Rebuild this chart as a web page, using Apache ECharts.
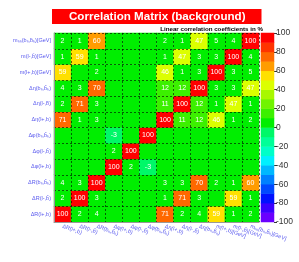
<!DOCTYPE html>
<html>
<head>
<meta charset="utf-8">
<script src="https://cdn.jsdelivr.net/npm/echarts@6/dist/echarts.min.js"></script>
<style>html,body{margin:0;padding:0;background:#fff}#c{width:299px;height:262px}</style>
</head>
<body>
<div id="c"></div>
<script>
// variables: same order for columns (left→right) and rows (bottom→top)
var variables = [
  'ΔR(l+,b)', 'ΔR(l-,b̄)', 'ΔR(bₕ,b̄ₕ)',
  'Δφ(l+,b)', 'Δφ(l-,b̄)', 'Δφ(bₕ,b̄ₕ)',
  'Δη(l+,b)', 'Δη(l-,b̄)', 'Δη(bₕ,b̄ₕ)',
  'm(l+,b)[GeV]', 'm(l-,b̄)[GeV]', 'mₕₕ(bₕ,b̄ₕ)[GeV]'
];
// correlation coefficients in %, row i = variables[i] (bottom row first)
var row0  = [100, 2, 4, 0, 0, 0, 71, 2, 4, 59, 1, 2];
var row1  = [2, 100, 3, 0, 0, 0, 1, 71, 3, 0, 59, 1];
var row2  = [4, 3, 100, 0, 0, 0, 3, 3, 70, 2, 1, 60];
var row3  = [0, 0, 0, 100, 2, -3, 0, 0, 0, 0, 0, 0];
var row4  = [0, 0, 0, 2, 100, 0, 0, 0, 0, 0, 0, 0];
var row5  = [0, 0, 0, -3, 0, 100, 0, 0, 0, 0, 0, 0];
var row6  = [71, 1, 3, 0, 0, 0, 100, 11, 12, 46, 1, 2];
var row7  = [2, 71, 3, 0, 0, 0, 11, 100, 12, 1, 47, 1];
var row8  = [4, 3, 70, 0, 0, 0, 12, 12, 100, 3, 3, 47];
var row9  = [59, 0, 2, 0, 0, 0, 46, 1, 3, 100, 3, 5];
var row10 = [1, 59, 1, 0, 0, 0, 1, 47, 3, 3, 100, 4];
var row11 = [2, 1, 60, 0, 0, 0, 2, 1, 47, 5, 4, 100];
var matrix = [row0, row1, row2, row3, row4, row5, row6, row7, row8, row9, row10, row11];

// palette bands (from -100 up to 100)
var bandEdges = [-100, -90, -80, -70, -60, -50, -40, -30, -20, -10, 0, 10, 20, 30, 40, 50, 60, 70, 80, 90, 100];
var bandColors = [
  '#6a00ff', '#3a00ff', '#0010ff', '#0048ff', '#0080ff', '#00b8ff', '#00f0ff', '#00ffc8', '#00ff98', '#00f868',
  '#00ee00', '#3cf000', '#70f400', '#a8f800', '#dcff00', '#ffe000', '#ff9c00', '#ff6800', '#ff3400', '#ff0000'
];

var cellData = [];
for (var i = 0; i < matrix.length; i++) {
  for (var j = 0; j < matrix[i].length; j++) {
    cellData.push([j, i, matrix[i][j]]);
  }
}
var pieces = [];
var barCats = [];
var barData = [];
for (var k = 0; k < bandColors.length; k++) {
  var p = { gte: bandEdges[k], color: bandColors[k] };
  if (k === bandColors.length - 1) p.lte = bandEdges[k + 1]; else p.lt = bandEdges[k + 1];
  pieces.push(p);
  barCats.push(String(k));
  barData.push([0, k, (bandEdges[k] + bandEdges[k + 1]) / 2]);
}

var FONT = 'Liberation Sans, Arial, Helvetica, sans-serif';
var labelColor = '#5858ee';

var chart = echarts.init(document.getElementById('c'), null, { renderer: 'canvas' });
chart.setOption({
  animation: false,
  backgroundColor: '#fff',
  title: [{
    text: 'Correlation Matrix (background)',
    left: 52, top: 9,
    backgroundColor: '#ff0000',
    padding: [1, 16, 1, 17],
    textStyle: { color: '#fff', fontSize: 11.6, fontWeight: 'bold', fontFamily: FONT, lineHeight: 13 }
  }, {
    text: 'Linear correlation coefficients in %',
    right: 36, top: 25.5, padding: 0,
    textStyle: { color: '#000', fontSize: 6.2, fontWeight: 'bold', fontFamily: FONT, lineHeight: 7 }
  }],
  grid: [
    { left: 54, top: 33, width: 205, height: 189 },
    { left: 261, top: 33, width: 13, height: 189 }
  ],
  xAxis: [{
    type: 'category', gridIndex: 0, data: variables, z: 5,
    axisLine: { show: true, lineStyle: { color: '#999', width: 1 } },
    axisTick: { show: false },
    splitLine: { show: true, lineStyle: { color: 'rgba(0,0,0,0.6)', type: [2, 2], width: 1 } },
    axisLabel: { rotate: -20, interval: 0, margin: 4, fontSize: 5.5, color: labelColor, fontFamily: FONT }
  }, {
    type: 'category', gridIndex: 1, data: ['c'], show: false
  }],
  yAxis: [{
    type: 'category', gridIndex: 0, data: variables, z: 5,
    axisLine: { show: true, lineStyle: { color: '#999', width: 1 } },
    axisTick: { show: false },
    splitLine: { show: true, lineStyle: { color: 'rgba(0,0,0,0.6)', type: [2, 2], width: 1 } },
    axisLabel: { interval: 0, margin: 3, fontSize: 5.5, color: labelColor, fontFamily: FONT }
  }, {
    type: 'category', gridIndex: 1, data: barCats, show: false
  }, {
    type: 'value', gridIndex: 1, position: 'right', min: -100, max: 100, interval: 20,
    axisLine: { show: false },
    axisTick: { show: true, length: 3, lineStyle: { color: '#333' } },
    splitLine: { show: false },
    axisLabel: { margin: 2, fontSize: 8.5, color: '#333', fontFamily: FONT }
  }],
  visualMap: {
    type: 'piecewise', show: false, dimension: 2, seriesIndex: [0, 1], pieces: pieces
  },
  series: [{
    type: 'heatmap', xAxisIndex: 0, yAxisIndex: 0, data: cellData,
    label: {
      show: true, color: '#fff', fontSize: 7, fontFamily: FONT,
      formatter: function (p) { return p.value[2] === 0 ? '' : String(p.value[2]); }
    },
    itemStyle: { borderWidth: 0 },
    emphasis: { disabled: true }
  }, {
    type: 'heatmap', xAxisIndex: 1, yAxisIndex: 1, data: barData,
    label: { show: false }, emphasis: { disabled: true }
  }]
});
</script>
</body>
</html>
